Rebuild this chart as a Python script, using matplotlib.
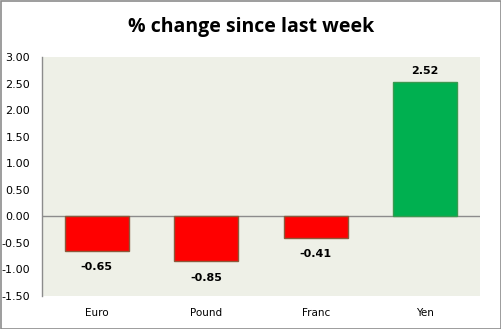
import matplotlib
matplotlib.use("Agg")
import matplotlib.pyplot as plt
from matplotlib.patches import Rectangle

categories = ["Euro", "Pound", "Franc", "Yen"]
values = [-0.65, -0.85, -0.41, 2.52]
yticks = [3.00, 2.50, 2.00, 1.50, 1.00, 0.50, 0.00, -0.50, -1.00, -1.50]

W, H = 502, 329
fig = plt.figure(figsize=(W/100, H/100), dpi=100)
fig.patch.set_facecolor("white")
ax = fig.add_axes([42/W, 1-296/H, (480-42)/W, (296-57)/H])
ax.set_facecolor("#EEF0E7")

colors = ["#FF0000" if v < 0 else "#00B050" for v in values]
edges = ["#8B5A3C" if v < 0 else "#3A9A50" for v in values]
x = list(range(len(categories)))
ax.bar(x, values, width=0.58, color=colors, edgecolor=edges, linewidth=1.0, zorder=3)
ax.axhline(0, color="#8C8C8C", linewidth=1.0, zorder=2)

for xi, v in zip(x, values):
    if v < 0:
        ax.annotate(f"{v:.2f}", (xi, v), xytext=(0, -8), textcoords="offset points",
                    ha="center", va="top", fontsize=8, fontweight="bold", family="DejaVu Sans")
    else:
        ax.annotate(f"{v:.2f}", (xi, v), xytext=(0, 5), textcoords="offset points",
                    ha="center", va="bottom", fontsize=8, fontweight="bold", family="DejaVu Sans")

ax.set_xlim(-0.5, len(categories)-0.5)
ax.set_ylim(-1.5, 3.0)
ax.set_yticks(yticks)
ax.set_yticklabels([f"{t:.2f}" for t in yticks], fontsize=8, family="DejaVu Sans")
ax.set_xticks(x)
ax.set_xticklabels(categories, fontsize=7.5, family="DejaVu Sans")
ax.tick_params(axis="both", length=0)
ax.tick_params(axis="y", pad=8.5)
ax.tick_params(axis="x", pad=9)
for s in ["top", "right", "bottom"]:
    ax.spines[s].set_visible(False)
ax.spines["left"].set_color("#8C8C8C")
ax.spines["left"].set_linewidth(1.0)

fig.text(0.5, 1-27/H, "% change since last week", ha="center", va="center",
         fontsize=14, fontweight="bold", family="Open Sans")
fig.patches.append(Rectangle((0.5/W, 0.5/H), 1-1.5/W, 1-1.5/H, transform=fig.transFigure,
                             fill=False, edgecolor="#8C8C8C", linewidth=1.2))

fig.savefig("out.png", dpi=100)
